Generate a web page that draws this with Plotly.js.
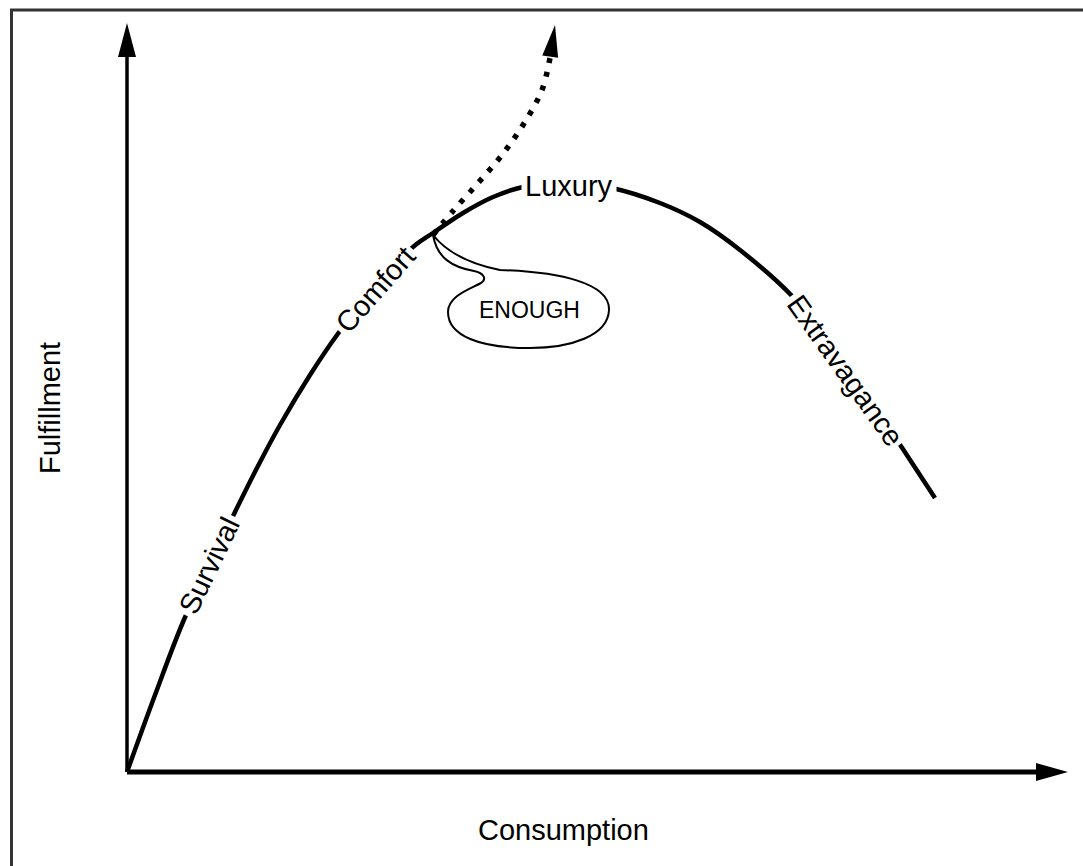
<!DOCTYPE html>
<html>
<head>
<meta charset="utf-8">
<script src="https://cdn.plot.ly/plotly-3.0.1.min.js"></script>
<style>html,body{margin:0;padding:0;background:#fff;}#chart{width:1083px;height:866px;}</style>
</head>
<body>
<div id="chart"></div>
<script>
// ---- Data (units: consumption on x, fulfillment on y) ----
var curveX = [0, 28, 56, 82, 108, 131, 153, 183, 210, 248, 286, 306, 336, 366, 396, 438, 485, 533, 573, 613, 666, 718, 770, 808];
var curveY = [0, 77, 150, 206, 260, 306, 347, 397, 437, 485, 525, 539, 559, 575, 585, 590, 584, 569, 550, 522, 475, 410, 332, 274];
var dottedX = [306, 326, 351, 375, 396, 415, 423];
var dottedY = [537, 561, 589, 617, 647, 682, 714];
var dottedTip = [428, 747];
var xAxisTip = [941, 0];
var yAxisTip = [0, 749];
var labelText = ["Survival", "Comfort", "Luxury", "Extravagance"];
var labelX = [82, 248, 442, 718];
var labelY = [206, 482, 586, 402];
var labelAngle = [-64.3, -48.5, 0, 54.5];
var xTitle = "Consumption";
var yTitle = "Fulfillment";
var bubbleText = "ENOUGH";

// ---- helpers ----
var FONT = "'Liberation Sans Narrow', 'Liberation Sans', Arial, sans-serif";
function px(x, y) { return [x - 127, 772 - y]; }
function arrowHead(tip, dir, len, half) {
  var n = Math.sqrt(dir[0]*dir[0] + dir[1]*dir[1]);
  var dx = dir[0]/n, dy = dir[1]/n;
  var bx = tip[0] - len*dx, by = tip[1] - len*dy;
  var p1 = [bx - half*dy, by + half*dx], p2 = [bx + half*dy, by - half*dx];
  return {path: 'M' + tip[0] + ',' + tip[1] + ' L' + p1[0] + ',' + p1[1] + ' L' + p2[0] + ',' + p2[1] + ' Z', base: [bx, by]};
}
var yHead = arrowHead(yAxisTip, [0, 1], 34, 9);
var xHead = arrowHead(xAxisTip, [1, 0], 32, 9);
var lastD = dottedX.length - 1;
var dHead = arrowHead(dottedTip, [dottedTip[0] - dottedX[lastD], dottedTip[1] - dottedY[lastD]], 32, 8);

// speech bubble outline (cubic segments)
var bub = [
  ['M', [433,235]],
  ['C', [445,250], [465,263], [500,270]],
  ['C', [560,272], [610,283], [609,310]],
  ['C', [608,336], [570,348], [530,348]],
  ['C', [480,348], [448,336], [448,312]],
  ['C', [448,296], [470,289], [481,283]],
  ['C', [487,279], [484,273], [474,271]],
  ['C', [452,267], [437,258], [433,235]]
];
var bubPath = bub.map(function (s) {
  return s[0] + s.slice(1).map(function (p) { var q = px(p[0], p[1]); return q[0] + ',' + q[1]; }).join(' ');
}).join(' ') + ' Z';

var traces = [
  {x: [0, 0], y: [0, yHead.base[1]], mode: 'lines', line: {color: '#000', width: 3.5}, hoverinfo: 'skip'},
  {x: [0, xHead.base[0]], y: [0, 0], mode: 'lines', line: {color: '#000', width: 5}, hoverinfo: 'skip'},
  {x: curveX, y: curveY, mode: 'lines', line: {color: '#000', width: 4.5, shape: 'spline', smoothing: 1}, hoverinfo: 'skip'},
  {x: dottedX.concat([dHead.base[0]]), y: dottedY.concat([dHead.base[1]]), mode: 'lines',
   line: {color: '#000', width: 5.5, shape: 'spline', dash: '5px,9px'}, hoverinfo: 'skip'}
];

var shapes = [
  {type: 'path', path: yHead.path, fillcolor: '#000', line: {width: 0}},
  {type: 'path', path: xHead.path, fillcolor: '#000', line: {width: 0}},
  {type: 'path', path: dHead.path, fillcolor: '#000', line: {width: 0}},
  {type: 'path', path: bubPath, fillcolor: 'rgba(255,255,255,0)', line: {color: '#000', width: 2}},
  {type: 'rect', xref: 'paper', yref: 'paper', x0: 11.5/1083, x1: 1.05, y0: -0.05, y1: 1 - 10/866,
   line: {color: '#333', width: 3}, fillcolor: 'rgba(0,0,0,0)'}
];

var annotations = labelText.map(function (t, i) {
  return {x: labelX[i], y: labelY[i], text: t, showarrow: false, textangle: labelAngle[i],
          bgcolor: '#fff', borderpad: 3, font: {family: FONT, size: 29, color: '#000'}};
});
annotations.push({x: 402, y: 462, text: bubbleText, showarrow: false, font: {family: FONT, size: 23, color: '#000'}});
annotations.push({x: 436, y: -58, text: xTitle, showarrow: false, font: {family: FONT, size: 29, color: '#000'}});
annotations.push({x: -77, y: 364, text: yTitle, showarrow: false, textangle: -90, font: {family: FONT, size: 29, color: '#000'}});

var layout = {
  width: 1083, height: 866,
  margin: {l: 0, r: 0, t: 0, b: 0},
  paper_bgcolor: '#fff', plot_bgcolor: '#fff',
  showlegend: false,
  xaxis: {range: [-127, 956], visible: false, fixedrange: true},
  yaxis: {range: [-94, 772], visible: false, fixedrange: true},
  shapes: shapes,
  annotations: annotations
};
Plotly.newPlot('chart', traces, layout, {staticPlot: true, displayModeBar: false});
</script>
</body>
</html>
